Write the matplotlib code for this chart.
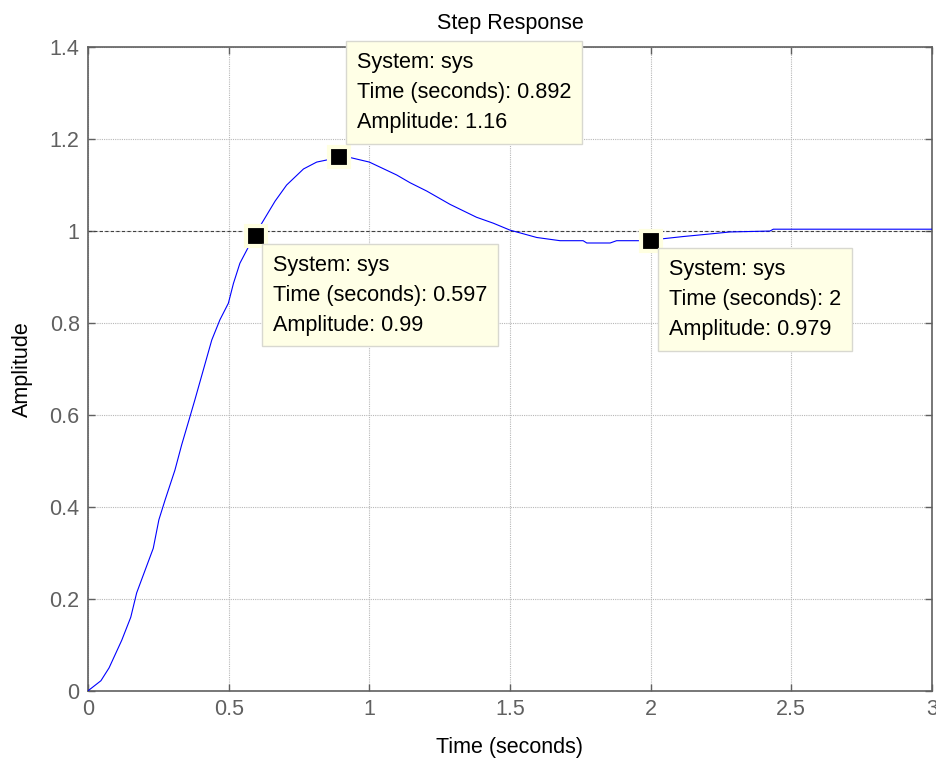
import numpy as np
import matplotlib
matplotlib.use("Agg")
import matplotlib.pyplot as plt

plt.rcParams['font.family'] = ['Liberation Sans', 'DejaVu Sans']

# step response
t = [0, 0.046, 0.075, 0.12, 0.152, 0.173, 0.232, 0.252, 0.274, 0.309, 0.333,
     0.359, 0.38, 0.41, 0.44, 0.469, 0.499, 0.517, 0.54, 0.57, 0.597, 0.611,
     0.665, 0.706, 0.766, 0.813, 0.892, 0.931, 1.0, 1.097, 1.145, 1.204,
     1.287, 1.334, 1.381, 1.441, 1.5, 1.595, 1.678, 1.76, 1.773, 1.856,
     1.879, 2.0, 2.04, 2.115, 2.2, 2.282, 2.424, 2.436, 3.0]
amp = [0, 0.022, 0.05, 0.11, 0.16, 0.213, 0.31, 0.372, 0.415, 0.48, 0.535,
       0.589, 0.633, 0.698, 0.763, 0.807, 0.843, 0.886, 0.93, 0.965, 0.99, 1.01,
       1.065, 1.10, 1.135, 1.15, 1.16, 1.16, 1.15, 1.122, 1.105, 1.087,
       1.058, 1.044, 1.03, 1.017, 1.002, 0.986, 0.979, 0.979, 0.974, 0.974,
       0.979, 0.979, 0.983, 0.988, 0.993, 0.998, 1.0, 1.004, 1.004]

# data tips
tip_t = [0.892, 0.597, 2]
tip_a = [1.16, 0.99, 0.979]
tip_txt = ["0.892", "0.597", "2"]
tip_amp_txt = ["1.16", "0.99", "0.979"]
tip_pos = [(0.956, 1.389), (0.658, 0.948), (2.065, 0.939)]

fig = plt.figure(figsize=(9.36, 7.6), dpi=100)
ax = fig.add_axes([0.094, 0.091, 0.9017, 0.847])

ax.plot(t, amp, color='#0000ff', lw=0.8, zorder=3)
ax.axhline(1, color='#404040', ls=(0, (3, 2)), lw=0.8, zorder=2)

ax.set_xlim(0, 3)
ax.set_ylim(0, 1.4)
ax.set_xticks(np.arange(0, 3.01, 0.5))
ax.set_yticks(np.arange(0, 1.41, 0.2))
ax.set_xticklabels(['0', '0.5', '1', '1.5', '2', '2.5', '3'])
ax.set_yticklabels(['0', '0.2', '0.4', '0.6', '0.8', '1', '1.2', '1.4'])
ax.grid(True, color='#b8b8b8', ls=(0, (1, 1)), lw=0.8)
ax.tick_params(direction='in', length=5, width=1, colors='#606060',
               labelsize=15.5, top=True, right=True, pad=6)
for sp in ax.spines.values():
    sp.set_color('#606060')
    sp.set_linewidth(1.2)

ax.set_title("Step Response", fontsize=15.5, pad=13)
ax.set_xlabel("Time (seconds)", fontsize=15.5, labelpad=12)
ax.set_ylabel("Amplitude", fontsize=15.5, labelpad=12)

for i in range(len(tip_t)):
    ax.plot(tip_t[i], tip_a[i], 's', ms=14, mfc='black', mec='#ffffe1',
            mew=3, zorder=5, clip_on=False)
    s = "System: sys\nTime (seconds): " + tip_txt[i] + "\nAmplitude: " + tip_amp_txt[i]
    ax.text(tip_pos[i][0], tip_pos[i][1], s, fontsize=15.6, ha='left', va='top',
            linespacing=1.55, zorder=6,
            bbox=dict(boxstyle='square,pad=0.5', fc='#ffffe6', ec='#d8d8d0', lw=1))

fig.savefig("out.png", dpi=100)
